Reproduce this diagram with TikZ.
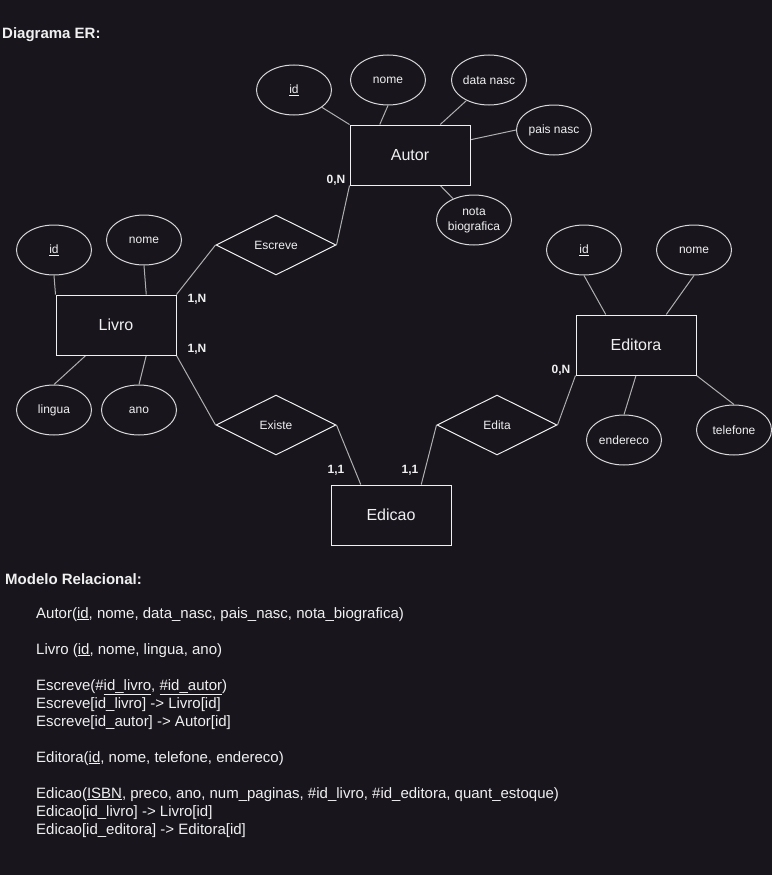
\documentclass[tikz,border=0pt]{standalone}
\usepackage{fontspec}
\setmainfont{Liberation Sans}
\usetikzlibrary{shapes.geometric,calc}
\definecolor{bg}{RGB}{24,21,29}
\definecolor{fg}{RGB}{240,240,240}
\definecolor{ln}{RGB}{175,175,175}
\begin{document}
\begin{tikzpicture}[x=1pt,y=-1pt,
  attr/.style={ellipse,draw=fg!90!black,line width=1pt,fill=bg,minimum width=75pt,minimum height=50pt,inner sep=0pt,text=fg,font=\fontsize{12}{15}\selectfont,align=center},
  ent/.style={rectangle,draw=fg,line width=1pt,fill=bg,minimum width=120pt,minimum height=60pt,inner sep=0pt,text=fg,font=\fontsize{16}{19}\selectfont},
  rel/.style={diamond,draw=fg,line width=1pt,fill=bg,aspect=2,minimum width=120pt,minimum height=60pt,inner sep=0pt,text=fg,font=\fontsize{12}{15}\selectfont},
  conn/.style={draw=ln,line width=1pt},
  card/.style={text=fg,font=\bfseries\fontsize{12}{14}\selectfont,inner sep=0pt},
  title/.style={text=fg,font=\bfseries\fontsize{15}{18}\selectfont,inner sep=0pt,anchor=base west},
  mtext/.style={text=fg,font=\fontsize{15}{18}\selectfont,inner sep=0pt,anchor=base west}]
\fill[bg] (0,0) rectangle (772,875);
\useasboundingbox (0,0) rectangle (772,875);

\node[title] (t1) at (2,39) {Diagrama ER:};

% entities
\node[ent] (autor) at (410,155) {Autor};
\node[ent] (livro) at (116,325) {Livro};
\node[ent] (editora) at (636,345) {Editora};
\node[ent] (edicao) at (391,515) {Edicao};

% relationships
\node[rel] (escreve) at (276,245) {Escreve};
\node[rel] (existe) at (276,425) {Existe};
\node[rel] (edita) at (497,425) {Edita};

% attributes
\node[attr] (aid) at (294,90) {\underline{id}};
\node[attr] (anome) at (388,80) {nome};
\node[attr] (adata) at (489,80) {data nasc};
\node[attr] (apais) at (554,130) {pais nasc};
\node[attr] (anota) at (474,220) {nota\\biografica};

\node[attr] (lid) at (54,250) {\underline{id}};
\node[attr] (lnome) at (144,240) {nome};
\node[attr] (llingua) at (54,410) {lingua};
\node[attr] (lano) at (139,410) {ano};

\node[attr] (eid) at (584,250) {\underline{id}};
\node[attr] (enome) at (694,250) {nome};
\node[attr] (eend) at (624,440) {endereco};
\node[attr] (etel) at (734,430) {telefone};

% attribute connectors
\path[conn] (aid) -- (autor.north west);
\path[conn] (anome.south) -- ($(autor.north west)!0.25!(autor.north east)$);
\path[conn] (adata) -- ($(autor.north west)!0.75!(autor.north east)$);
\path[conn] (apais.west) -- ($(autor.north east)!0.25!(autor.south east)$);
\path[conn] ($(autor.south west)!0.75!(autor.south east)$) -- (anota);

\path[conn] (lid.south) -- (livro.north west);
\path[conn] (lnome.south) -- ($(livro.north west)!0.75!(livro.north east)$);
\path[conn] ($(livro.south west)!0.25!(livro.south east)$) -- (llingua.north);
\path[conn] ($(livro.south west)!0.75!(livro.south east)$) -- (lano.north);

\path[conn] (eid.south) -- ($(editora.north west)!0.25!(editora.north east)$);
\path[conn] (enome.south) -- ($(editora.north west)!0.75!(editora.north east)$);
\path[conn] (editora.south) -- (eend.north);
\path[conn] (editora.south east) -- (etel.north);

% relationship connectors
\path[conn] (livro.north east) -- (escreve.west);
\path[conn] (escreve.east) -- (autor.south west);
\path[conn] (livro.south east) -- (existe.west);
\path[conn] (existe.east) -- ($(edicao.north west)!0.25!(edicao.north east)$);
\path[conn] (edita.west) -- ($(edicao.north west)!0.75!(edicao.north east)$);
\path[conn] (edita.east) -- (editora.south west);

% redraw shapes on top of lines
\node[ent] at (autor) {Autor};
\node[ent] at (livro) {Livro};
\node[ent] at (editora) {Editora};
\node[ent] at (edicao) {Edicao};

% cardinalities
\node[card] (c1) at (336,180) {0,N};
\node[card] (c2) at (197,299) {1,N};
\node[card] (c3) at (197,349) {1,N};
\node[card] (c4) at (561,370) {0,N};
\node[card] (c5) at (336,470) {1,1};
\node[card] (c6) at (410,470) {1,1};

% relational model
\node[title] (t2) at (5,584) {Modelo Relacional:};
\node[mtext] (m1) at (36,618) {Autor(\underline{id}, nome, data\_nasc, pais\_nasc, nota\_biografica)};
\node[mtext] (m2) at (36,654) {Livro (\underline{id}, nome, lingua, ano)};
\node[mtext] (m3) at (36,690) {Escreve(\#\underline{id\_livro}, \underline{\#id\_autor})};
\node[mtext] (m4) at (36,708) {Escreve[id\_livro] -> Livro[id]};
\node[mtext] (m5) at (36,726) {Escreve[id\_autor] -> Autor[id]};
\node[mtext] (m6) at (36,762) {Editora(\underline{id}, nome, telefone, endereco)};
\node[mtext] (m7) at (36,798) {Edicao(\underline{ISBN}, preco, ano, num\_paginas, \#id\_livro, \#id\_editora, quant\_estoque)};
\node[mtext] (m8) at (36,816) {Edicao[id\_livro] -> Livro[id]};
\node[mtext] (m9) at (36,834) {Edicao[id\_editora] -> Editora[id]};
\end{tikzpicture}
\end{document}
